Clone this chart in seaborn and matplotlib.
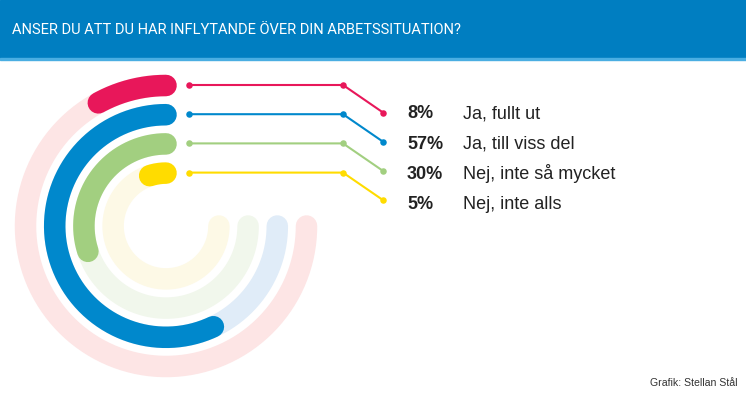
import numpy as np
import matplotlib
matplotlib.use("Agg")
import matplotlib.pyplot as plt
from matplotlib.patches import Rectangle
import seaborn as sns

# --------------------------------------------------------
# Data
# --------------------------------------------------------
title = "ANSER DU ATT DU HAR INFLYTANDE ÖVER DIN ARBETSSITUATION?"
labels = ["Ja, fullt ut", "Ja, till viss del", "Nej, inte så mycket", "Nej, inte alls"]
values = [8, 57, 30, 5]
credit = "Grafik: Stellan Stål"

colors = ["#E8175A", "#0088CC", "#A2CF80", "#FFDC00"]
track_colors = ["#FDE5E5", "#E0ECF8", "#F1F7EC", "#FDF9E6"]
TRACK_SHARE = 75  # background rings cover 3/4 of the circle

# --------------------------------------------------------
# Layout (pixels)
# --------------------------------------------------------
W, H, DPI = 746, 398, 100
CX, CY = 166, 226          # ring centre
R_OUTER, R_STEP = 140.5, 29.2
R_BOX = 165
BAR_W = 21.5 * 72 / DPI    # ring thickness in points

sns.set_theme(style="white")
plt.rcParams["font.family"] = ["Liberation Sans", "DejaVu Sans"]

fig = plt.figure(figsize=(W / DPI, H / DPI), dpi=DPI)
fig.patch.set_facecolor("white")

# polar axes placed so that 1 data unit of radius == 1 pixel
ax = fig.add_axes([(CX - R_BOX) / W, (H - CY - R_BOX) / H, 2 * R_BOX / W, 2 * R_BOX / H],
                  projection="polar")
ax.set_theta_zero_location("N")
ax.set_theta_direction(1)
ax.set_rlim(0, R_BOX)
ax.set_facecolor("none")
ax.grid(False)
ax.set_xticks([])
ax.set_yticks([])
ax.spines["polar"].set_visible(False)

radii = [R_OUTER - R_STEP * i for i in range(len(values))]

# background tracks first, then the value arcs on top
for r, tc in zip(radii, track_colors):
    t_track = np.linspace(0, TRACK_SHARE / 100 * 2 * np.pi, 300)
    sns.lineplot(x=t_track, y=np.full_like(t_track, r), ax=ax, color=tc,
                 linewidth=BAR_W, solid_capstyle="round", sort=False,
                 estimator=None, clip_on=False)
for r, v, c in zip(radii, values, colors):
    t_val = np.linspace(0, v / 100 * 2 * np.pi, 300)
    sns.lineplot(x=t_val, y=np.full_like(t_val, r), ax=ax, color=c,
                 linewidth=BAR_W, solid_capstyle="round", sort=False,
                 estimator=None, clip_on=False)
ax.set_xlabel("")
ax.set_ylabel("")

# --------------------------------------------------------
# Overlay in pixel coordinates: header, leaders, labels
# --------------------------------------------------------
ov = fig.add_axes([0, 0, 1, 1])
ov.set_xlim(0, W)
ov.set_ylim(H, 0)
ov.axis("off")
ov.set_facecolor("none")

ov.add_patch(Rectangle((0, 0), W, 57.5, color="#007EC1", zorder=1))
ov.add_patch(Rectangle((0, 57.5), W, 2.5, color="#4AAEE2", zorder=1))
ov.text(12, 30, title, color="white", fontsize=10.5, va="center", ha="left",
        family=["Roboto", "Liberation Sans", "DejaVu Sans"])

for i, (r, v, lab, c) in enumerate(zip(radii, values, labels, colors)):
    y0 = CY - r - 0.5
    y1 = y0 + 27.5
    xs = [189, 343, 383]
    ys = [y0, y0, y1]
    ov.plot(xs, ys, color=c, linewidth=1.5, solid_capstyle="round")
    ov.scatter(xs, ys, s=22, color=c, zorder=3, linewidths=0)
    ty = 118.5 + 30.2 * i
    ov.text(407, ty, f"{v}%", fontsize=13, fontweight="bold", color="#222222",
            va="baseline", ha="left")
    ov.text(463, ty, lab, fontsize=13, color="#222222", va="baseline", ha="left")

ov.text(737, 383, credit, fontsize=7.6, color="#333333", va="center", ha="right")

fig.savefig("out.png", dpi=DPI, facecolor="white")
